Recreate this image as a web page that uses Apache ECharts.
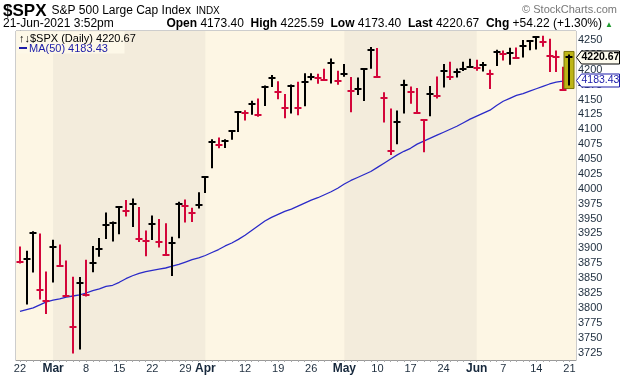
<!DOCTYPE html>
<html>
<head>
<meta charset="utf-8">
<script src="https://cdn.jsdelivr.net/npm/echarts@6/dist/echarts.min.js"></script>
<style>
html,body{margin:0;padding:0;background:#fff}
#chart{width:620px;height:376px}
</style>
</head>
<body>
<div id="chart"></div>
<script>
// trading days 22-Feb-2021 .. 21-Jun-2021
var dates = [
  'Feb 22','Feb 23','Feb 24','Feb 25','Feb 26',
  'Mar 1','Mar 2','Mar 3','Mar 4','Mar 5','Mar 8','Mar 9','Mar 10','Mar 11','Mar 12',
  'Mar 15','Mar 16','Mar 17','Mar 18','Mar 19','Mar 22','Mar 23','Mar 24','Mar 25','Mar 26',
  'Mar 29','Mar 30','Mar 31','Apr 1','Apr 5','Apr 6','Apr 7','Apr 8','Apr 9',
  'Apr 12','Apr 13','Apr 14','Apr 15','Apr 16','Apr 19','Apr 20','Apr 21','Apr 22','Apr 23',
  'Apr 26','Apr 27','Apr 28','Apr 29','Apr 30','May 3','May 4','May 5','May 6','May 7',
  'May 10','May 11','May 12','May 13','May 14','May 17','May 18','May 19','May 20','May 21',
  'May 24','May 25','May 26','May 27','May 28','Jun 1','Jun 2','Jun 3','Jun 4',
  'Jun 7','Jun 8','Jun 9','Jun 10','Jun 11','Jun 14','Jun 15','Jun 16','Jun 17','Jun 18','Jun 21'
];
var highs = [
  3902.92,3895.98,3928.65,3925.02,3861.08,3914.50,3906.41,3879.53,3852.15,3851.69,
  3881.06,3903.76,3917.35,3960.27,3944.99,3970.08,3981.04,3983.87,3969.62,3930.12,
  3955.31,3949.13,3942.08,3919.54,3978.19,3981.83,3968.01,3994.41,4020.63,4083.42,
  4086.23,4083.13,4098.19,4129.48,4131.76,4148.00,4151.69,4173.49,4191.31,4180.81,
  4159.18,4175.02,4179.57,4194.17,4194.19,4193.35,4201.53,4218.78,4198.10,4209.39,
  4187.72,4186.72,4202.70,4238.04,4236.39,4162.04,4134.73,4131.58,4183.13,4171.92,
  4169.15,4116.93,4172.80,4188.72,4209.52,4213.42,4201.99,4213.38,4218.36,4216.52,
  4212.87,4200.10,4233.45,4232.34,4236.74,4237.09,4249.74,4248.56,4255.59,4257.16,
  4251.89,4232.29,4204.78,4225.59
];
var lows = [
  3874.71,3805.59,3859.60,3814.04,3789.54,3842.51,3868.57,3818.92,3723.34,3730.19,
  3819.25,3859.76,3885.73,3915.54,3911.65,3923.54,3953.44,3935.74,3910.86,3886.75,
  3914.16,3901.57,3889.07,3853.50,3917.12,3943.25,3944.35,3966.98,3992.78,4034.44,
  4068.14,4068.31,4082.54,4095.51,4114.82,4124.43,4120.87,4139.12,4170.75,4150.47,
  4118.38,4126.35,4123.69,4138.78,4182.36,4176.22,4181.78,4176.81,4174.85,4188.03,
  4128.59,4157.73,4147.33,4201.64,4188.13,4111.53,4056.88,4074.99,4126.46,4142.69,
  4125.99,4061.41,4121.98,4151.72,4170.16,4182.52,4187.11,4197.78,4203.57,4198.27,
  4197.01,4167.66,4206.05,4215.66,4208.41,4218.74,4220.34,4232.66,4234.08,4238.35,
  4196.30,4196.05,4164.40,4173.40
];
var closes = [
  3876.50,3881.37,3925.43,3829.34,3811.15,3901.82,3870.29,3819.72,3768.47,3841.94,
  3821.35,3875.44,3898.81,3939.34,3943.34,3968.94,3962.71,3974.12,3915.46,3913.10,
  3940.59,3910.52,3889.14,3909.52,3974.54,3971.09,3958.55,3972.89,4019.87,4077.91,
  4073.94,4079.95,4097.17,4128.80,4127.99,4141.59,4124.66,4170.42,4185.47,4163.26,
  4134.94,4173.42,4134.98,4180.17,4187.62,4186.72,4183.18,4211.47,4181.17,4192.66,
  4164.66,4167.59,4201.62,4232.60,4188.43,4152.10,4063.04,4112.50,4173.85,4163.29,
  4127.83,4115.68,4159.12,4155.86,4197.05,4188.13,4195.99,4200.88,4204.11,4202.04,
  4208.12,4192.85,4229.89,4226.52,4227.26,4219.55,4239.18,4247.44,4255.15,4246.59,
  4223.70,4221.86,4166.45,4220.67
];
// MA(50)
var ma50 = [
  3794,3797,3800,3805,3810,3813,3815,3818,3820,3822,
  3825,3829,3832,3836,3838,3843,3849,3854,3858,3861,
  3863,3865,3867,3870,3873,3877,3881,3884,3888,3893,
  3898,3904,3909,3915,3922,3930,3938,3946,3952,3957,
  3962,3966,3971,3976,3981,3985,3990,3995,4001,4008,
  4014,4019,4024,4029,4036,4043,4050,4057,4063,4068,
  4075,4080,4085,4090,4095,4100,4105,4111,4117,4122,
  4127,4132,4140,4147,4152,4157,4160,4164,4168,4172,
  4176,4179,4181,4183.43
];
var prevClose = 3906.71;   // close before the first bar
var lastOpen = 4173.40;
var yTicks = [3725,3750,3775,3800,3825,3850,3875,3900,3925,3950,3975,4000,4025,4050,
  4075,4100,4125,4150,4175,4200,4225,4250];
var gridIdx = [0,5,10,15,20,25,28,29,34,39,44,49,54,59,64,69,73,78,83];
var xLabelIdx = [0,5,10,15,20,25,28,34,39,44,49,54,59,64,69,73,78,83];
var xLabelText = ['22','Mar','8','15','22','29','Apr','12','19','26','May','10','17','24','Jun','7','14','21'];
var monthStarts = [5,28,49,69];

var last = closes.length - 1;
var xMin = -0.6, xMax = 84;
var dayIdx = dates.map(function (d, i) { return i; });

var barData = closes.map(function (c, i) {
  var pc = i === 0 ? prevClose : closes[i - 1];
  return [i, highs[i], lows[i], c, c >= pc ? 1 : 0];
});

var bands = [[{xAxis: xMin, itemStyle: {color: '#fdf6e4'}}, {xAxis: xMax}]];
for (var m = 0; m < monthStarts.length; m++) {
  var end = m + 1 < monthStarts.length ? monthStarts[m + 1] : xMax;
  if (m % 2 === 0) bands.push([{xAxis: monthStarts[m], itemStyle: {color: '#f3ecdc'}}, {xAxis: end}]);
}

function renderBar(params, api) {
  var i = api.value(0);
  var top = api.coord([i, api.value(1)]);
  var bot = api.coord([i, api.value(2)]);
  var cl = api.coord([i, api.value(3)]);
  var color = api.value(4) ? '#000000' : '#d3063a';
  var x = Math.round(top[0]);
  var kids = [];
  if (i === last) {
    kids.push({type: 'rect', shape: {x: x - 5, y: top[1] - 3, width: 10, height: bot[1] - top[1] + 6},
      style: {fill: '#bdb516', stroke: '#7a7508', lineWidth: 1}});
  }
  kids.push({type: 'line', shape: {x1: x, y1: top[1], x2: x, y2: bot[1]},
    style: {stroke: color, lineWidth: 2}});
  kids.push({type: 'line', shape: {x1: x - 3.5, y1: Math.round(cl[1]), x2: x + 3.5, y2: Math.round(cl[1])},
    style: {stroke: color, lineWidth: 2}});
  if (i === last) {
    var rx = api.coord([xMax, 0])[0] + 0.5;
    var cy = Math.round(cl[1]) + 0.5;
    var my = Math.round(api.coord([i, ma50[last]])[1]) + 0.5;
    kids.push({type: 'polygon', shape: {points: [[rx, cy], [rx + 5, cy - 6.5], [rx + 43, cy - 6.5], [rx + 43, cy + 6.5], [rx + 5, cy + 6.5]]},
      style: {fill: '#fdfbee', stroke: '#000', lineWidth: 1}});
    kids.push({type: 'text', x: rx + 5, y: cy, style: {text: closes[last].toFixed(2),
      font: 'bold 10.5px "Liberation Sans"', fill: '#000', verticalAlign: 'middle'}});
    kids.push({type: 'polygon', shape: {points: [[rx, my], [rx + 5, my - 6.5], [rx + 43, my - 6.5], [rx + 43, my + 6.5], [rx + 5, my + 6.5]]},
      style: {fill: '#ffffff', stroke: '#1c1ca8', lineWidth: 1}});
    kids.push({type: 'text', x: rx + 5, y: my, style: {text: ma50[last].toFixed(2),
      font: '10.5px "Liberation Sans"', fill: '#1c1ca8', verticalAlign: 'middle'}});
  }
  return {type: 'group', children: kids};
}

var chg = closes[last] - closes[last - 1];
var pct = chg / closes[last - 1] * 100;

var option = {
  animation: false,
  title: [
    {left: 3, top: 2, padding: 0,
      text: '{a|$SPX} {b|S&P 500 Large Cap Index} {c|INDX}',
      textStyle: {fontWeight: 'normal', rich: {
        a: {fontFamily: 'Liberation Sans', fontSize: 17, fontWeight: 'bold', color: '#000'},
        b: {fontFamily: 'Liberation Sans', fontSize: 12, fontWeight: 'normal', color: '#000'},
        c: {fontFamily: 'Liberation Sans', fontSize: 10, fontWeight: 'normal', color: '#000'}
      }}},
    {right: 3, top: 4, padding: 0, text: '\u00a9 StockCharts.com',
      textStyle: {fontFamily: 'Liberation Sans', fontSize: 11, fontWeight: 'normal', color: '#777'}},
    {left: 3, top: 18, padding: 0, text: '21-Jun-2021 3:52pm',
      textStyle: {fontFamily: 'Liberation Sans', fontSize: 12, fontWeight: 'normal', color: '#000'}},
    {right: 18, top: 18, padding: 0,
      text: '{b|Open} ' + lastOpen.toFixed(2) + '  {b|High} ' + highs[last].toFixed(2) +
        '  {b|Low} ' + lows[last].toFixed(2) + '  {b|Last} ' + closes[last].toFixed(2) +
        '  {b|Chg} +' + chg.toFixed(2) + ' (+' + pct.toFixed(2) + '%)',
      textStyle: {fontFamily: 'Liberation Sans', fontSize: 12, fontWeight: 'normal', color: '#000',
        rich: {b: {fontFamily: 'Liberation Sans', fontSize: 12, fontWeight: 'bold', color: '#000'}}}},
    {right: 7, top: 21, padding: 0, text: '\u25b2',
      textStyle: {fontSize: 8, fontWeight: 'normal', color: '#1e9a2e'}}
  ],
  grid: {left: 16, right: 44, top: 31, bottom: 16, show: true, borderColor: '#9a9a9a', borderWidth: 1,
    backgroundColor: 'transparent'},
  xAxis: [
    {type: 'value', min: xMin, max: xMax, position: 'bottom',
      axisLine: {show: true, lineStyle: {color: '#9a9a9a'}},
      axisTick: {show: false, customValues: gridIdx},
      axisLabel: {customValues: xLabelIdx, margin: 3, fontFamily: 'Liberation Sans', fontSize: 11,
        color: '#1e2e3e',
        formatter: function (v) {
          var k = xLabelIdx.indexOf(Math.round(v));
          if (k < 0) return '';
          var t = xLabelText[k];
          return monthStarts.indexOf(xLabelIdx[k]) >= 0 ? '{m|' + t + '}' : t;
        },
        rich: {m: {fontFamily: 'Liberation Sans', fontSize: 12, fontWeight: 'bold', color: '#16283c'}}},
      splitLine: {show: true, lineStyle: {color: '#e2dac6', width: 1}}},
    {type: 'value', min: xMin, max: xMax, position: 'bottom',
      axisLine: {show: false}, axisLabel: {show: false}, splitLine: {show: false},
      axisTick: {show: true, customValues: dayIdx, length: 2, lineStyle: {color: '#a8a8a8'}}}
  ],
  yAxis: {type: 'value', position: 'right', min: 3712.5, max: 4265,
    axisLine: {show: true, lineStyle: {color: '#9a9a9a'}},
    axisTick: {show: true, customValues: yTicks, length: 3, lineStyle: {color: '#333'}},
    axisLabel: {customValues: yTicks, margin: 2, fontFamily: 'Liberation Sans', fontSize: 11, color: '#1e2e3e',
      formatter: function (v) { return String(v); }},
    splitLine: {show: true, lineStyle: {color: '#e2dac6', width: 1}}},
  series: [
    {type: 'line', data: [], z: -1, silent: true,
      markArea: {silent: true, data: bands}},
    {type: 'line', name: 'MA(50)', data: ma50.map(function (v, i) { return [i, v]; }),
      symbol: 'none', lineStyle: {color: '#2a2ac8', width: 1.3}, z: 2},
    {type: 'custom', name: '$SPX', data: barData, renderItem: renderBar, clip: false, z: 3,
      encode: {x: 0, y: [1, 2, 3]}}
  ],
  graphic: [
    {type: 'rect', shape: {x: 16.5, y: 31.5, width: 108, height: 22}, style: {fill: '#fdf8e8'}, z: 10},
    {type: 'text', x: 19, y: 33, z: 11, style: {text: '\u2191\u2193$SPX (Daily) ' + closes[last].toFixed(2),
      font: '11px "Liberation Sans"', fill: '#000'}},
    {type: 'rect', shape: {x: 19, y: 47, width: 8, height: 2}, style: {fill: '#1c1ca8'}, z: 11},
    {type: 'text', x: 29, y: 43, z: 11, style: {text: 'MA(50) ' + ma50[last].toFixed(2),
      font: '11px "Liberation Sans"', fill: '#1c1ca8'}}
  ]
};

var myChart = echarts.init(document.getElementById('chart'));
myChart.setOption(option);
</script>
</body>
</html>
